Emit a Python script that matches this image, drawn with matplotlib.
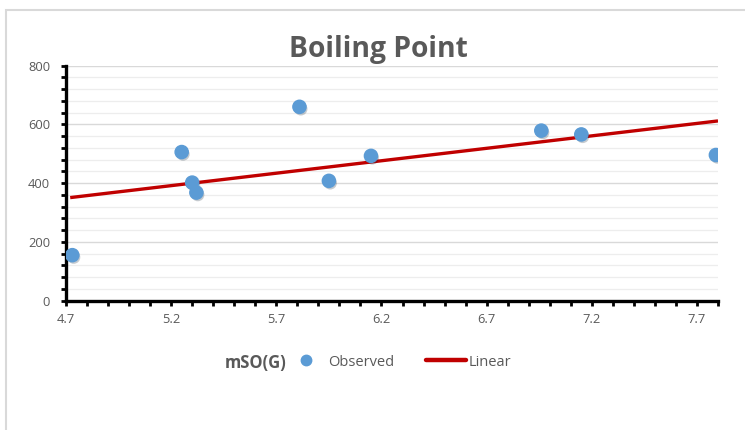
import matplotlib
matplotlib.use("Agg")
import matplotlib.pyplot as plt
import matplotlib.patheffects as pe
from matplotlib.ticker import MultipleLocator
from matplotlib.patches import Rectangle
from matplotlib.lines import Line2D

plt.rcParams['font.family'] = ['Open Sans', 'DejaVu Sans']

# observed boiling points against mSO(G)
mso_g = [4.73, 5.25, 5.30, 5.32, 5.81, 5.95, 6.15, 6.96, 7.15, 7.79]
boiling = [155, 506, 402, 368, 660, 408, 493, 579, 566, 496]

# ends of the linear trend line
linear_x = [4.72, 7.80]
linear_y = [351, 612]

xticks = [4.7, 5.2, 5.7, 6.2, 6.7, 7.2, 7.7]
yticks = [0, 200, 400, 600, 800]

grey = '#595959'
blue = '#5b9bd5'
red = '#c00000'

fig = plt.figure(figsize=(7.45, 4.30), dpi=100)
ax = fig.add_axes([66 / 745, 1 - 300.7 / 430, 652 / 745, 235 / 430])

# light frame around the chart area
fig.add_artist(Rectangle((6 / 745, -0.1), 2, 1.1 - 10 / 430, transform=fig.transFigure,
                         fill=False, edgecolor='#d9d9d9', linewidth=1.5))

ax.plot(linear_x, linear_y, color=red, linewidth=2.4, solid_capstyle='butt', zorder=3)
ax.scatter(mso_g, boiling, s=90, color=blue, zorder=4,
           path_effects=[pe.SimplePatchShadow(offset=(1, -1.5), alpha=0.25), pe.Normal()])

ax.set_xlim(4.7, 7.8)
ax.set_ylim(0, 800)
ax.set_xticks(xticks)
ax.set_yticks(yticks)
ax.xaxis.set_minor_locator(MultipleLocator(0.1))
ax.yaxis.set_minor_locator(MultipleLocator(40))

ax.grid(which='major', axis='y', color='#d9d9d9', linewidth=1.0)
ax.grid(which='minor', axis='y', color='#ededed', linewidth=0.9)
ax.set_axisbelow(True)

for side in ['top', 'right']:
    ax.spines[side].set_visible(False)
for side in ['left', 'bottom']:
    ax.spines[side].set_linewidth(2.4)
    ax.spines[side].set_color('black')

ax.tick_params(which='both', direction='out', length=3.5, width=2, color='black')
ax.tick_params(axis='x', labelsize=9.3, labelcolor=grey, pad=5)
ax.tick_params(axis='y', labelsize=9.3, labelcolor=grey, pad=8)

fig.text(378 / 745, 1 - 57 / 430, 'Boiling Point', ha='center', va='baseline',
         fontsize=20.3, fontweight='bold', color=grey)

handles = [Line2D([], [], marker='o', linestyle='none', markersize=7.5, color=blue),
           Line2D([], [], color=red, linewidth=3.2, solid_capstyle='round')]
leg = fig.legend(handles, ['Observed', 'Linear'], ncol=2, frameon=False,
                 loc='center left', bbox_to_anchor=(286 / 745, 1 - 362 / 430),
                 fontsize=10.5, handlelength=2.74, handletextpad=0.14,
                 columnspacing=2.2, borderpad=0, borderaxespad=0)
for t in leg.get_texts():
    t.set_color(grey)
fig.text(287 / 745, 1 - 363 / 430, 'mSO(G)', ha='right', va='center',
         fontsize=12, fontweight='bold', color=grey)

fig.savefig('out.png', dpi=100)
